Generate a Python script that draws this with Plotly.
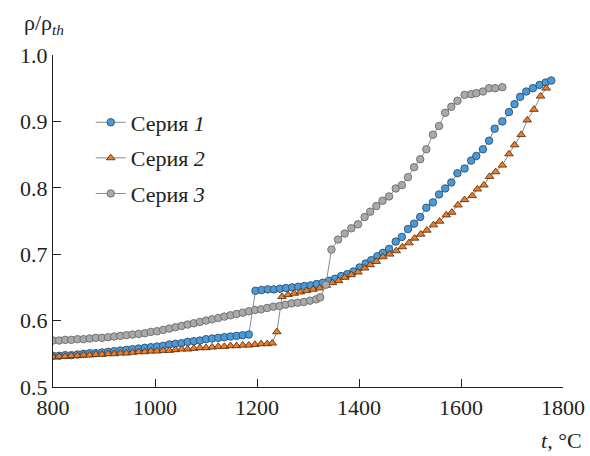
import plotly.graph_objects as go

# Series 1 (blue circles)
t1 = [800, 812, 824, 836, 848, 860, 872, 884, 896, 908, 920, 932, 944, 956, 968, 980, 992,
      1004, 1016, 1028, 1040, 1052, 1064, 1076, 1088, 1100, 1112, 1124, 1136, 1148, 1160, 1172, 1184,
      1197, 1209, 1221, 1233, 1245, 1257, 1269, 1281, 1293, 1305, 1317, 1329, 1341, 1353, 1365, 1377,
      1389, 1401, 1413, 1424, 1436, 1447, 1459, 1472, 1484, 1496, 1508, 1520, 1532, 1545, 1557, 1569,
      1581, 1593, 1607, 1620, 1630, 1643, 1655, 1666, 1681, 1694, 1705, 1716, 1728, 1741, 1754, 1766, 1777]
r1 = [0.547, 0.547, 0.548, 0.548, 0.549, 0.550, 0.551, 0.551, 0.552, 0.553, 0.554, 0.555, 0.556, 0.557,
      0.558, 0.559, 0.560, 0.561, 0.562, 0.564, 0.565, 0.566, 0.568, 0.569, 0.570, 0.572, 0.573, 0.574,
      0.575, 0.576, 0.577, 0.578, 0.579,
      0.645, 0.646, 0.647, 0.647, 0.648, 0.649, 0.650, 0.651, 0.652, 0.653, 0.655, 0.657, 0.660, 0.663,
      0.667, 0.670, 0.674, 0.680, 0.686, 0.691, 0.697, 0.702, 0.708, 0.719, 0.726, 0.738, 0.746, 0.756,
      0.770, 0.778, 0.790, 0.799, 0.808, 0.822, 0.829, 0.841, 0.848, 0.858, 0.871, 0.889, 0.900, 0.914,
      0.926, 0.937, 0.945, 0.950, 0.955, 0.9585, 0.9615]

# Series 2 (orange triangles)
t2 = [800, 812, 824, 836, 848, 860, 872, 884, 896, 908, 920, 932, 944, 956, 968, 980, 992,
      1004, 1016, 1028, 1040, 1052, 1064, 1076, 1088, 1100, 1112, 1124, 1136, 1148, 1160, 1172, 1184,
      1196, 1208, 1220, 1230, 1239, 1249, 1261, 1273, 1285, 1297, 1310, 1323, 1336, 1348, 1360, 1372,
      1385, 1398, 1411, 1422, 1434, 1447, 1460, 1473, 1485, 1498, 1509, 1521, 1533, 1546, 1558, 1571,
      1582, 1594, 1607, 1622, 1632, 1645, 1656, 1668, 1681, 1694, 1705, 1718, 1730, 1743, 1756, 1767]
r2 = [0.545, 0.546, 0.546, 0.547, 0.547, 0.548, 0.548, 0.549, 0.549, 0.550, 0.550, 0.551, 0.551, 0.552,
      0.553, 0.553, 0.554, 0.554, 0.555, 0.555, 0.556, 0.557, 0.557, 0.558, 0.559, 0.559, 0.560, 0.561,
      0.561, 0.562, 0.562, 0.563, 0.563, 0.564, 0.565, 0.565, 0.566,
      0.583, 0.636, 0.639, 0.641, 0.643, 0.645, 0.647, 0.649, 0.653, 0.657, 0.660, 0.665, 0.669, 0.673,
      0.679, 0.684, 0.689, 0.696, 0.700, 0.705, 0.711, 0.717, 0.724, 0.730, 0.736, 0.744, 0.7495, 0.759,
      0.763, 0.774, 0.782, 0.788, 0.798, 0.804, 0.817, 0.824, 0.834, 0.851, 0.8645, 0.880, 0.902, 0.918,
      0.938, 0.950]

# Series 3 (grey circles)
t3 = [800, 812, 824, 836, 848, 860, 872, 884, 896, 908, 920, 932, 944, 956, 968, 980, 992,
      1004, 1016, 1028, 1040, 1052, 1064, 1076, 1088, 1100, 1112, 1124, 1136, 1148, 1160, 1172, 1184,
      1196, 1208, 1220, 1232, 1244, 1256, 1268, 1280, 1292, 1304, 1316, 1324, 1335, 1346, 1359, 1372,
      1385, 1398, 1411, 1422, 1434, 1446, 1459, 1472, 1484, 1496, 1508, 1520, 1532, 1545, 1557, 1569,
      1581, 1593, 1607, 1620, 1630, 1643, 1655, 1667, 1681]
r3 = [0.570, 0.570, 0.571, 0.571, 0.572, 0.572, 0.573, 0.574, 0.574, 0.575, 0.576, 0.577, 0.578, 0.579,
      0.580, 0.581, 0.583, 0.584, 0.586, 0.588, 0.590, 0.592, 0.594, 0.596, 0.598, 0.600, 0.602, 0.604,
      0.606, 0.608, 0.610, 0.612, 0.614, 0.616, 0.617, 0.619, 0.621, 0.622, 0.624, 0.626, 0.627, 0.628,
      0.630, 0.632, 0.635, 0.654, 0.707, 0.722, 0.731, 0.739, 0.745, 0.756, 0.764, 0.7725, 0.7805, 0.787,
      0.799, 0.804, 0.816, 0.831, 0.843, 0.858, 0.880, 0.893, 0.913, 0.922, 0.931, 0.940, 0.941, 0.9425,
      0.945, 0.950, 0.950, 0.9515]

names = ["Серия <i>1</i>", "Серия <i>2</i>", "Серия <i>3</i>"]
x_ticks = [800, 1000, 1200, 1400, 1600, 1800]
y_ticks = [0.5, 0.6, 0.7, 0.8, 0.9, 1.0]
y_ticklabels = ["0.5", "0.6", "0.7", "0.8", "0.9", "1.0"]

FONT = "Liberation Serif"
INK = "#231f20"
FS = 22

fig = go.Figure()
styles = [
    (t1, r1, "circle", "#4a9ad9", "#2f4f6a"),
    (t2, r2, "triangle-up", "#f07d26", "#5a3418"),
    (t3, r3, "circle", "#a9a9a9", "#6a6a6a"),
]
for i, ((t, r, sym, fill, edge), nm) in enumerate(zip(styles, names)):
    fig.add_trace(go.Scatter(
        x=t, y=r, name=nm, mode="lines+markers", legendgroup=f"g{i}",
        line=dict(color="#8a8a8a", width=1),
        marker=dict(symbol=sym, size=7.5, color=fill, line=dict(color=edge, width=0.9)),
    ))

fig.update_layout(
    width=590, height=456,
    margin=dict(l=53, r=27, t=55, b=69, autoexpand=False),
    paper_bgcolor="white", plot_bgcolor="white",
    font=dict(family=FONT, size=FS, color=INK),
    showlegend=True,
    hovermode=False,
    legend=dict(x=0.074, y=0.86, xanchor="left", yanchor="top",
                font=dict(family=FONT, size=FS, color=INK),
                bgcolor="rgba(0,0,0,0)", itemwidth=30, tracegroupgap=4),
    xaxis=dict(range=[800, 1800], tickvals=x_ticks, ticks="inside", ticklen=8, tickwidth=1,
               tickcolor=INK, showline=True, linecolor=INK, linewidth=1.2, showgrid=False,
               zeroline=False, automargin=False, tickfont=dict(family=FONT, size=FS, color=INK)),
    yaxis=dict(range=[0.5, 1.0], tickvals=y_ticks, ticktext=y_ticklabels, ticks="inside",
               ticklen=8, tickwidth=1, tickcolor=INK, showline=True, linecolor=INK, linewidth=1.2,
               showgrid=False, zeroline=False, automargin=False,
               tickfont=dict(family=FONT, size=FS, color=INK)),
    annotations=[
        dict(text="ρ/ρ<sub><i>th</i></sub>", xref="paper", yref="paper",
             x=(22 - 53.3) / 510, y=(386.7 - 24) / 331.7, xanchor="left", yanchor="middle",
             showarrow=False, font=dict(family=FONT, size=FS, color=INK)),
        dict(text="<i>t</i>, °C", xref="paper", yref="paper",
             x=(584 - 53.3) / 510, y=(386.7 - 440) / 331.7, xanchor="right", yanchor="middle",
             showarrow=False, font=dict(family=FONT, size=FS, color=INK)),
    ],
)

fig.write_html("out.html", config={"displayModeBar": False},
               post_script="document.body.style.margin='0';")
